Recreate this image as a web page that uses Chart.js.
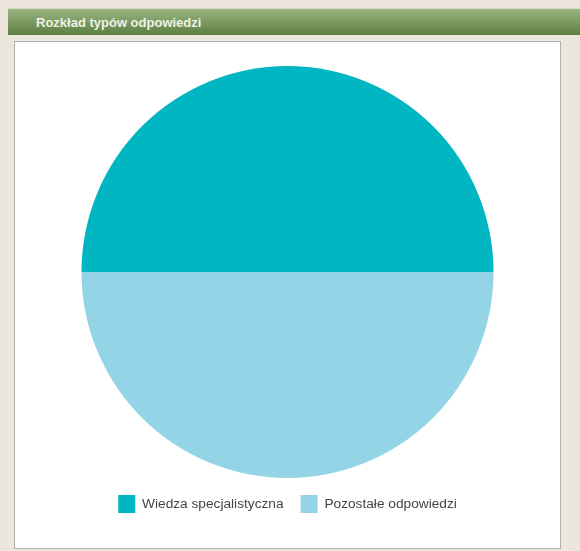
<!DOCTYPE html>
<html><head><meta charset="utf-8">
<script src="https://cdn.jsdelivr.net/npm/chart.js@4/dist/chart.umd.min.js"></script>
<style>
html,body{margin:0;padding:0;width:580px;height:551px;background:#ede6dd;overflow:hidden;font-family:"Liberation Sans",Arial,sans-serif;}
#hdr{position:absolute;left:8px;top:8px;width:572px;height:27px;background:linear-gradient(#9ab581,#5d7f43);border-top:1px solid #d3dcc4;box-sizing:border-box;}
#hdr span{position:absolute;left:28px;top:6px;color:#eef2e6;font-weight:bold;font-size:13px;}
#panel{position:absolute;left:14px;top:41px;width:547px;height:508px;background:#fff;border:1px solid #aeb0b0;box-sizing:border-box;}
#wrap{position:absolute;left:0;top:0;width:545px;height:506px;}
</style></head><body>
<div id="hdr"><span>Rozkład typów odpowiedzi</span></div>
<div id="panel"><div id="wrap"><canvas id="c"></canvas></div></div>
<script>
const categories = ["Wiedza specjalistyczna", "Pozostałe odpowiedzi"];
const values = [50, 50];
const colors = ["#00b6c2", "#93d5e7"];
new Chart(document.getElementById('c'), {
  type: 'pie',
  data: { labels: categories, datasets: [{ data: values, backgroundColor: colors, borderWidth: 0 }] },
  options: {
    responsive: true, maintainAspectRatio: false, animation: false,
    rotation: -90,
    layout: { padding: { top: 24, bottom: 25 } },
    plugins: {
      tooltip: { enabled: false },
      legend: { position: 'bottom', labels: { boxWidth: 17, boxHeight: 18, padding: 17, color: '#444', font: { family: 'Liberation Sans', size: 13.7 } } }
    }
  }
});
</script>
</body></html>
